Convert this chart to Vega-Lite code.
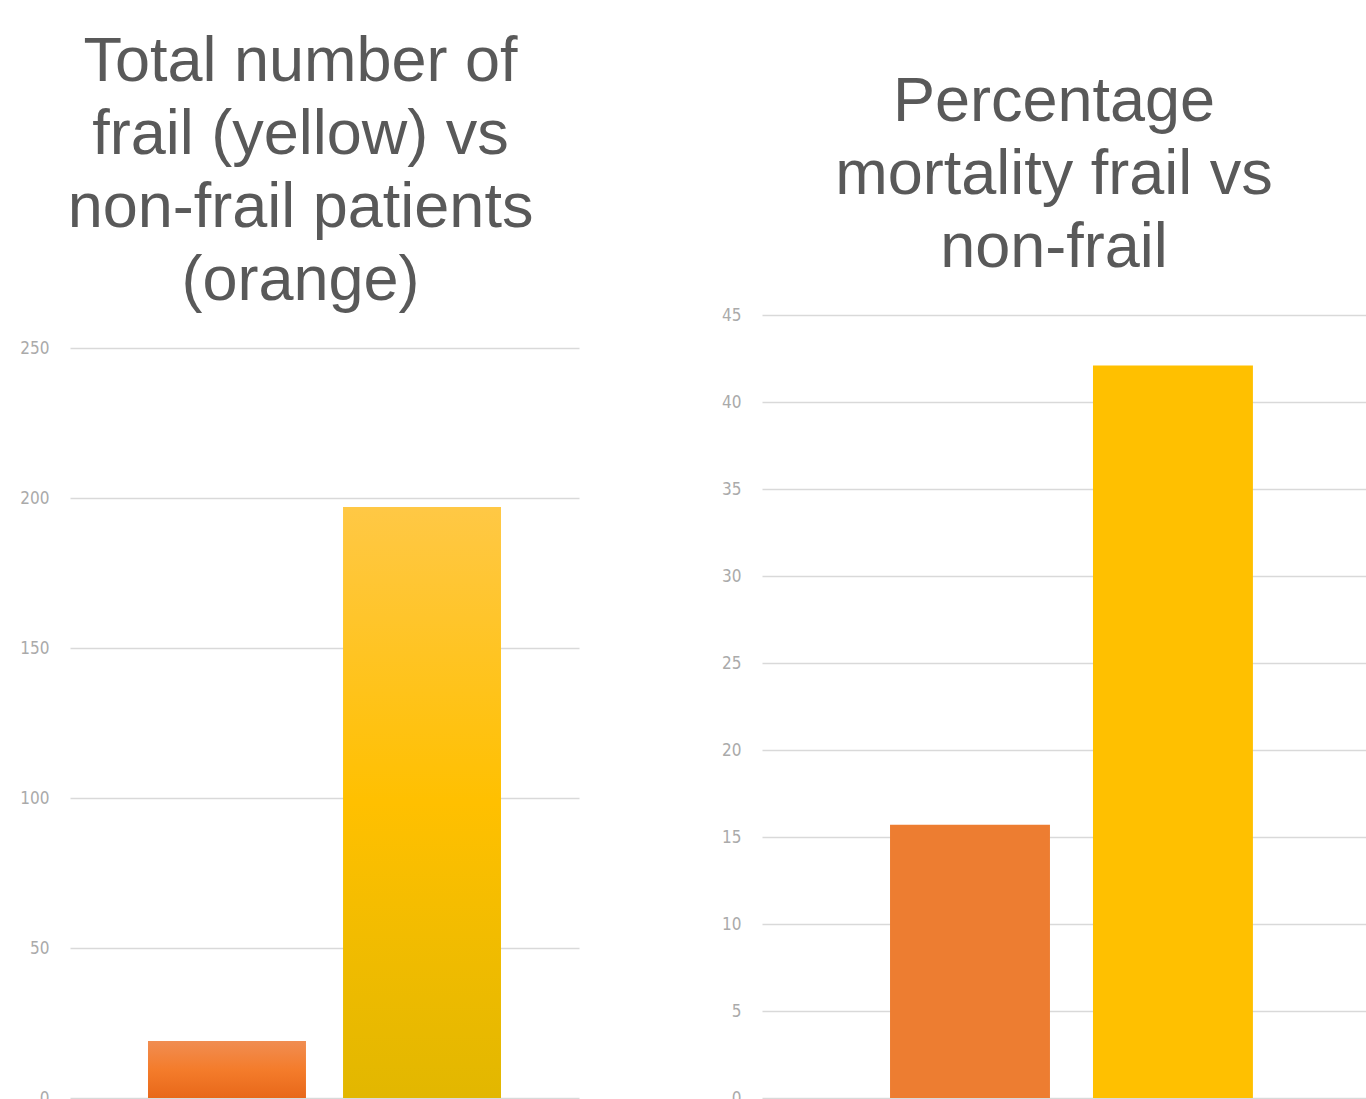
{
  "$schema": "https://vega.github.io/schema/vega-lite/v6.json",
  "padding": {"left": 19, "top": 31, "right": 0, "bottom": 0},
  "background": "white",
  "config": {
    "view": {"stroke": null},
    "axisY": {"domain": false, "ticks": false, "labelFont": "DejaVu Sans Condensed", "labelFontSize": 17, "labelColor": "#aaaaaa", "labelPadding": 21, "gridColor": "#d9d9d9", "gridWidth": 1.5, "title": null},
    "title": {"font": "Liberation Sans", "fontSize": 63, "fontWeight": "normal", "color": "#595959", "lineHeight": 73, "anchor": "middle"}
  },
  "datasets": {
    "counts": [{"group": "Non-frail", "value": 19}, {"group": "Frail", "value": 197}],
    "mortality": [{"group": "Non-frail", "value": 15.7}, {"group": "Frail", "value": 42.1}]
  },
  "spacing": 142,
  "hconcat": [
    {
      "title": {"text": ["Total number of", "frail (yellow) vs", "non-frail patients", "(orange)"], "offset": 2, "dx": -24},
      "width": 509,
      "height": 783,
      "data": {"name": "counts"},
      "mark": {"type": "bar"},
      "encoding": {
        "x": {"field": "group", "type": "nominal", "sort": ["Non-frail", "Frail"], "axis": null, "scale": {"paddingInner": 0.19, "paddingOuter": 0.4}},
        "y": {"field": "value", "type": "quantitative", "scale": {"domain": [0, 261], "nice": false}, "axis": {"values": [0, 50, 100, 150, 200, 250]}},
        "fill": {
          "condition": {"test": "datum.group === 'Non-frail'", "value": {"gradient": "linear", "x1": 0, "y1": 0, "x2": 0, "y2": 1, "stops": [{"offset": 0, "color": "#f08d52"}, {"offset": 0.5, "color": "#f47c2b"}, {"offset": 1, "color": "#e8681a"}]}},
          "value": {"gradient": "linear", "x1": 0, "y1": 0, "x2": 0, "y2": 1, "stops": [{"offset": 0, "color": "#ffc845"}, {"offset": 0.5, "color": "#ffc000"}, {"offset": 1, "color": "#e2b700"}]}
        }
      }
    },
    {
      "title": {"text": ["Percentage", "mortality frail vs", "non-frail"], "offset": 26, "dx": -10},
      "width": 604,
      "height": 783,
      "data": {"name": "mortality"},
      "mark": {"type": "bar"},
      "encoding": {
        "x": {"field": "group", "type": "nominal", "sort": ["Non-frail", "Frail"], "axis": null, "scale": {"paddingInner": 0.212, "paddingOuter": 0.594, "align": 0.531}},
        "y": {"field": "value", "type": "quantitative", "scale": {"domain": [0, 45], "nice": false}, "axis": {"values": [0, 5, 10, 15, 20, 25, 30, 35, 40, 45]}},
        "color": {"field": "group", "type": "nominal", "scale": {"domain": ["Non-frail", "Frail"], "range": ["#ed7d31", "#ffc000"]}, "legend": null}
      }
    }
  ]
}
